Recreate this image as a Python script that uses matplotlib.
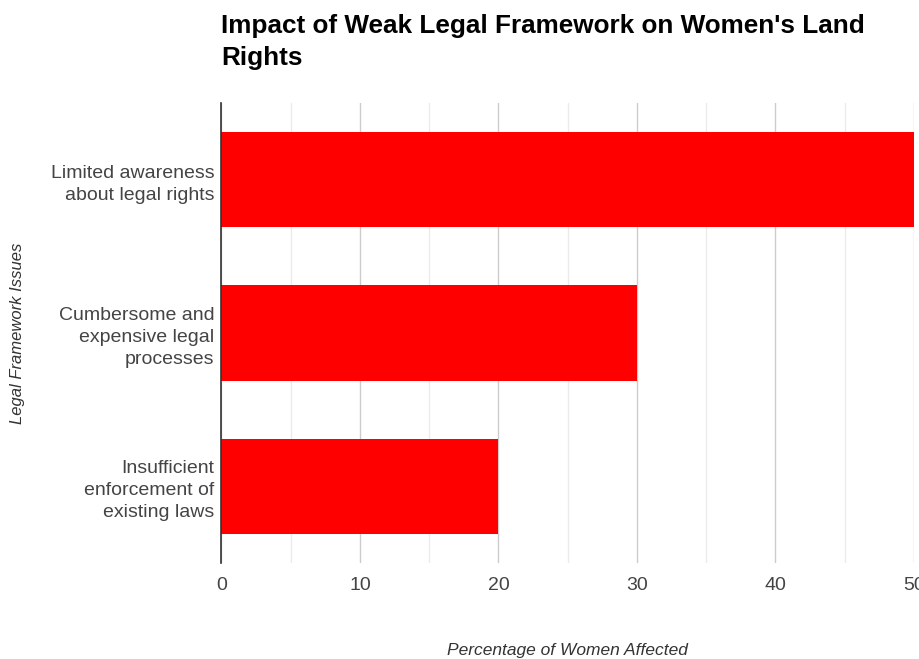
import matplotlib
matplotlib.use("Agg")
import matplotlib.pyplot as plt
from matplotlib.ticker import MultipleLocator

categories = ["Limited awareness\nabout legal rights",
              "Cumbersome and\nexpensive legal\nprocesses",
              "Insufficient\nenforcement of\nexisting laws"]
values = [50, 30, 20]
title = "Impact of Weak Legal Framework on Women's Land\nRights"
xlabel = "Percentage of Women Affected"
ylabel = "Legal Framework Issues"

plt.rcParams['font.family'] = ['Liberation Sans', 'DejaVu Sans']

fig = plt.figure(figsize=(9.2, 6.59), dpi=100)
ax = fig.add_axes([221.5/920, 1-563/659, (914-221.5)/920, 460/659])

pos = list(range(len(categories)))
ax.barh(pos, values, height=0.62, color="#ff0000", zorder=3)
ax.set_ylim(2.5, -0.5)
ax.set_xlim(0, 50)
ax.set_yticks(pos)
ax.set_yticklabels(categories, fontsize=14, color="#444444", linespacing=1.38)
ax.xaxis.set_major_locator(MultipleLocator(10))
ax.xaxis.set_minor_locator(MultipleLocator(5))
ax.tick_params(axis='x', which='both', length=0, pad=10, labelsize=14, labelcolor="#444444")
ax.tick_params(axis='y', length=0, pad=5)
ax.grid(axis='x', which='major', color="#cccccc", linewidth=1, zorder=0)
ax.grid(axis='x', which='minor', color="#ebebeb", linewidth=1, zorder=0)
for s in ['top', 'right', 'bottom']:
    ax.spines[s].set_visible(False)
ax.spines['left'].set_color("#333333")
ax.spines['left'].set_linewidth(1.2)
ax.spines['left'].set_zorder(4)

fig.text(221/920, 1-14/659, title, fontsize=18.8, fontweight='bold', ha='left', va='top', color="#000000", linespacing=1.42)
fig.text(567/920, 1-651/659, xlabel, fontsize=12.5, style='italic', ha='center', va='center', color="#333333")
fig.text(18/920, 1-333/659, ylabel, fontsize=12, style='italic', ha='center', va='center', rotation=90, color="#333333")

fig.savefig("out.png", dpi=100)
